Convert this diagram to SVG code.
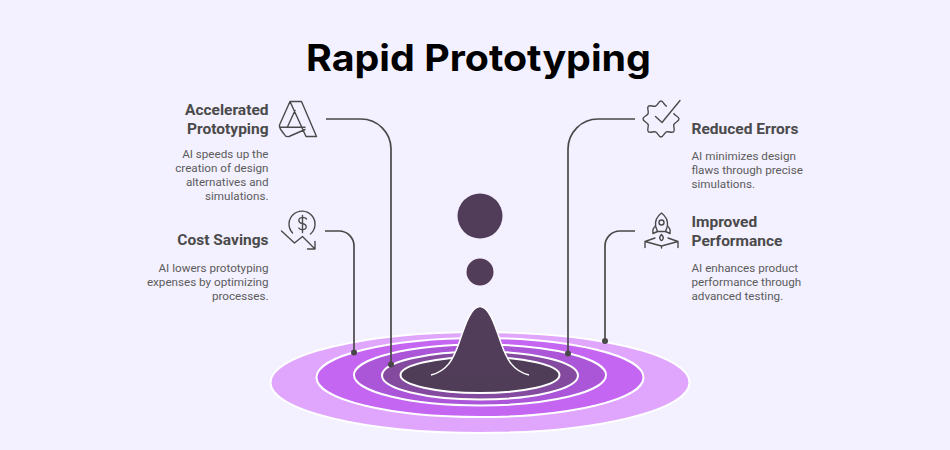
<svg xmlns="http://www.w3.org/2000/svg" width="950" height="450" viewBox="0 0 950 450">
<style>
.t{font-family:"Roboto","Liberation Sans",sans-serif}
.h{font-size:15.5px;font-weight:700;fill:#4a4a4a}
.b{font-size:11.66px;fill:#5c5c5c}
.e{text-anchor:end}
.r{stroke:#fff;stroke-width:2}
.c{fill:none;stroke:#484848;stroke-width:1.7}
.i{fill:none;stroke:#4a4a4a;stroke-width:1.4;stroke-linejoin:round;stroke-linecap:round}
.d{fill:#484848}
</style>
<rect width="950" height="450" fill="#f3f0ff"/>
<text x="478.500" y="71" text-anchor="middle" textLength="345" lengthAdjust="spacingAndGlyphs" style="font-family:Inter,'Liberation Sans',sans-serif;font-size:37px;font-weight:700" fill="#000">Rapid Prototyping</text>
<g id="ripple">
<ellipse class="r" cx="480" cy="382.500" rx="209.500" ry="50.500" fill="#e0a6fe"/>
<ellipse class="r" cx="480" cy="377.500" rx="163.500" ry="39.500" fill="#c566f3"/>
<ellipse class="r" cx="480" cy="375" rx="126" ry="30.500" fill="#ab55d8"/>
<ellipse class="r" cx="480" cy="375.500" rx="98" ry="24" fill="#844aa0"/>
<ellipse class="r" cx="480" cy="375" rx="79.500" ry="18" fill="#4f3d57"/>
<path d="M431 375C447 371 453 360 459 343C465 325 471 306.500 480 306.500C489 306.500 495 325 501 343C507 360 513 371 529 375" fill="#513c59" stroke="#fff" stroke-width="1.500"/>
</g>
<g id="drops">
<circle cx="480" cy="216" r="22.500" fill="#513c59"/>
<circle cx="480" cy="272" r="13.500" fill="#513c59"/>
</g>
<g id="connectors">
<path class="c" d="M326 119H361A30 30 0 0 1 391 149V364.500"/>
<circle class="d" cx="391" cy="364.500" r="3"/>
<path class="c" d="M325 231H339A15 15 0 0 1 354 246V352.500"/>
<circle class="d" cx="354" cy="352.500" r="3"/>
<path class="c" d="M635 119H598A30 30 0 0 0 568 149V353.500"/>
<circle class="d" cx="568" cy="353.500" r="3"/>
<path class="c" d="M635 231H620A15 15 0 0 0 605 246V341"/>
<circle class="d" cx="605" cy="341" r="3"/>
</g>
<g id="node-accelerated">
<text class="t h e" x="268.500" y="115">Accelerated</text>
<text class="t h e" x="268.500" y="134">Prototyping</text>
<text class="t b e" x="268.500" y="158">AI speeds up the</text>
<text class="t b e" x="268.500" y="172">creation of design</text>
<text class="t b e" x="268.500" y="186">alternatives and</text>
<text class="t b e" x="268.500" y="200">simulations.</text>
<path class="i" d="M290 101.500H301.500L316.500 136.500H306ZM290 101.500L279.500 125C279 127 280 128 281 130L284 134C285 136 287 137 289 136.500L305 129.500M280 127.300H305M295 110.500L287.300 127.300"/>
</g>
<g id="node-cost">
<text class="t h e" x="268.500" y="245">Cost Savings</text>
<text class="t b e" x="268.500" y="272">AI lowers prototyping</text>
<text class="t b e" x="268.500" y="286">expenses by optimizing</text>
<text class="t b e" x="268.500" y="300">processes.</text>
<path class="i" d="M292.500 233A13 13 0 1 1 310.500 234M306.500 219C305 216.800 300 216.800 299 219.300C298.200 221.800 300 223 302.500 223.500C305 224 307 225.300 306 228C305 230.300 300 230.300 298.800 228M302.500 215.500V232.500M281.500 231L294.500 243L302.500 236.500L315 249M315 241.500V249H307.500"/>
</g>
<g id="node-errors">
<text class="t h" x="691.500" y="134">Reduced Errors</text>
<text class="t b" x="691.500" y="160">AI minimizes design</text>
<text class="t b" x="691.500" y="174">flaws through precise</text>
<text class="t b" x="691.500" y="188">simulations.</text>
<path class="i" d="M655.500 116.500L662 122.500L680 100.500M673.900 113.600C674.900 115.900 679 116.500 679 119C679 121.500 674.900 122.100 673.900 124.400C672.900 126.700 675.500 129.900 673.700 131.700C671.900 133.500 668.700 130.900 666.400 131.900C664.100 132.900 663.500 137 661 137C658.500 137 657.900 132.900 655.600 131.900C653.300 130.900 650.100 133.500 648.300 131.700C646.500 129.900 649.100 126.700 648.100 124.400C647.100 122.100 643 121.500 643 119C643 116.500 647.100 115.900 648.100 113.600C649.100 111.300 646.500 108.100 648.300 106.300C650.100 104.500 653.300 107.100 655.600 106.100C657.900 105.100 658.500 101 661 101C663.500 101 664.100 105.100 666.400 106.100"/>
</g>
<g id="node-performance">
<text class="t h" x="691.500" y="227">Improved</text>
<text class="t h" x="691.500" y="246">Performance</text>
<text class="t b" x="691.500" y="272">AI enhances product</text>
<text class="t b" x="691.500" y="286">performance through</text>
<text class="t b" x="691.500" y="300">advanced testing.</text>
<g class="i">
<path d="M661.500 213C657.500 216 655 221 655.500 226L657.500 231.500H665.500L667.500 226C668 221 665.500 216 661.500 213Z"/>
<circle cx="661.500" cy="222.500" r="2.500"/>
<path d="M655.500 226C653 228 652.500 231 653 233.500L657.500 231.500M667.500 226C670 228 670.500 231 670 233.500L665.500 231.500"/>
<path d="M661.500 234.500C660 236 659.500 238 660 239C661 241 662 241 663 239C663.500 238 663 236 661.500 234.500Z"/>
<path d="M645 247.500V241.500L655 238M678 247.500V241.500L668 238M645 241.500L661.500 246L678 241.500M661.500 246V248"/>
</g>
</g>
</svg>
